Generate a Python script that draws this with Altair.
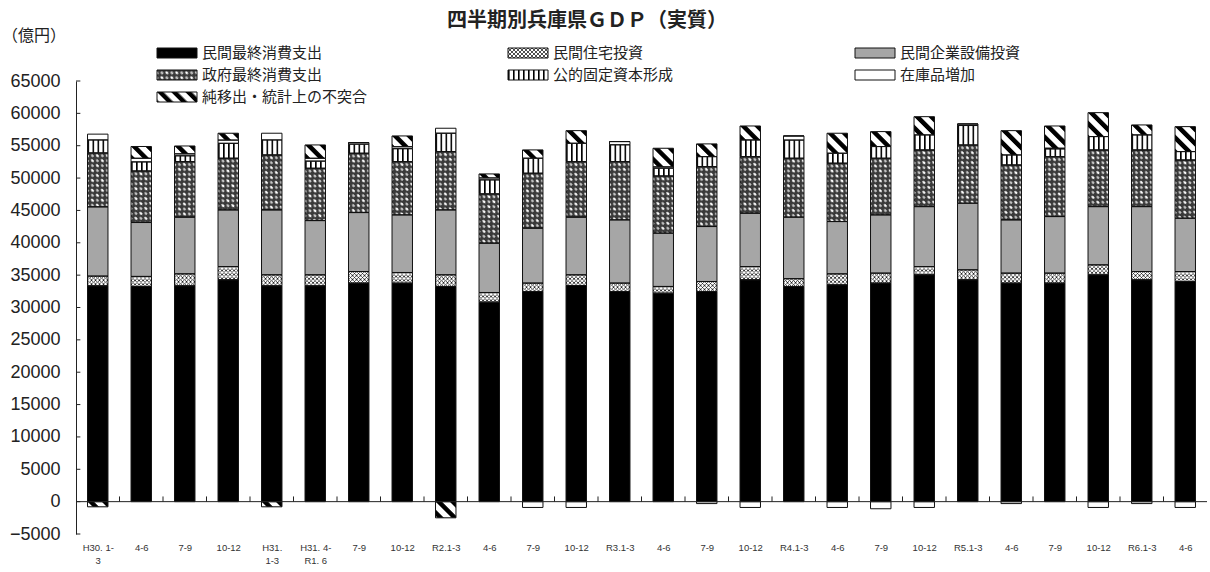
import base64
import json

import altair as alt
import pandas as pd

# ---- data (億円) -------------------------------------------------------------
quarters = ["H30. 1-|3", "4-6", "7-9", "10-12", "H31.|1-3", "H31. 4-|R1. 6", "7-9", "10-12",
            "R2.1-3", "4-6", "7-9", "10-12", "R3.1-3", "4-6", "7-9", "10-12",
            "R4.1-3", "4-6", "7-9", "10-12", "R5.1-3", "4-6", "7-9", "10-12",
            "R6.1-3", "4-6"]

series_names = ["民間最終消費支出", "民間住宅投資", "民間企業設備投資",
                "政府最終消費支出", "公的固定資本形成", "在庫品増加",
                "純移出・統計上の不突合"]

consumption = [33350, 33250, 33350, 34280, 33350, 33350, 33770, 33770, 33250, 30830,
               32470, 33400, 32470, 32220, 32470, 34280, 33250, 33500, 33770, 35050,
               34280, 33770, 33770, 35050, 34280, 34020]
residential = [1500, 1550, 1850, 2050, 1700, 1700, 1790, 1640, 1800, 1490,
               1300, 1650, 1300, 1030, 1550, 2050, 1200, 1700, 1540, 1280,
               1540, 1540, 1540, 1540, 1280, 1540]
business = [10700, 8330, 8760, 8750, 10030, 8380, 9110, 8900, 10030, 7620,
            8490, 8910, 9770, 8240, 8490, 8240, 9510, 8080, 9000, 9260,
            10300, 8230, 8740, 9000, 10030, 8240]
government = [8340, 7970, 8580, 7990, 8500, 8090, 9170, 8230, 9010, 7620,
              8490, 8580, 9000, 8840, 9260, 8740, 9110, 9020, 8760, 8760,
              9000, 8490, 9260, 8760, 8760, 9000]
public = [2000, 1400, 900, 2300, 2310, 1100, 1400, 2000, 2840, 2160,
          2320, 2840, 2600, 1200, 1540, 2580, 2800, 1540, 1800, 2320,
          3000, 1540, 1200, 2060, 2320, 1290]
inventory = [900, 560, 300, 500, 1040, 440, 240, 300, 770, 300,
             -900, -900, 500, 200, -300, -900, 640, -900, -1100, -900,
             240, -300, 100, -900, -300, -900]
net_exports = [-800, 1820, 1220, 1060, -800, 2060, 0, 1670, -2500, 620,
               1280, 1950, 0, 2880, 1970, 2160, 0, 3090, 2310, 2820,
               0, 3760, 3440, 3700, 1540, 3860]

y_ticks = list(range(-5000, 65001, 5000))

columns = [consumption, residential, business, government, public, inventory, net_exports]
rows = []
for order, (name, vals) in enumerate(zip(series_names, columns)):
    for i, v in enumerate(vals):
        rows.append({"idx": i, "series": name, "order": order, "value": v})
df = pd.DataFrame(rows)

# ---- fills and hatch patterns ------------------------------------------------
JP = "Noto Sans CJK JP"


def pattern_uri(w, h, body, transform=""):
    tr = f" patternTransform='{transform}'" if transform else ""
    svg = ("<svg xmlns='http://www.w3.org/2000/svg' width='100%' height='100%'>"
           f"<defs><pattern id='p' patternUnits='userSpaceOnUse' width='{w}' height='{h}'{tr}>"
           f"{body}</pattern></defs>"
           "<rect x='0' y='0' width='100%' height='100%' fill='url(#p)'/></svg>")
    return "data:image/svg+xml;base64," + base64.b64encode(svg.encode("utf-8")).decode("ascii")


patterns = {
    "民間住宅投資": pattern_uri(
        4, 4, "<rect width='4' height='4' fill='#fff'/>"
              "<path d='M0,0 L4,4 M4,0 L0,4' stroke='#222' stroke-width='0.8'/>"),
    "政府最終消費支出": pattern_uri(
        7, 7, "<rect width='7' height='7' fill='#3a3a3a'/>"
              "<ellipse cx='2' cy='2' rx='1.7' ry='1.2' fill='#fff'/>"
              "<ellipse cx='5.5' cy='5.5' rx='1.7' ry='1.2' fill='#c8c8c8'/>", "rotate(45)"),
    "公的固定資本形成": pattern_uri(
        5, 5, "<rect width='5' height='5' fill='#fff'/><rect width='1.6' height='5' fill='#000'/>"),
    "純移出・統計上の不突合": pattern_uri(
        10, 10, "<rect width='10' height='10' fill='#fff'/><rect width='4.5' height='10' fill='#000'/>",
        "rotate(-45)"),
}

base_colors = ["#000000", "#777777", "#a6a6a6", "#444444", "#dddddd", "#ffffff", "#888888"]

# ---- scales / axes -----------------------------------------------------------
n = len(quarters)
x_scale = alt.Scale(domain=[-0.5, n - 0.5], nice=False, zero=False)
y_scale = alt.Scale(domain=[-5000, 65000], nice=False, zero=False)

label_expr = "split(" + json.dumps(quarters) + "[datum.value], '|')"
x_axis = alt.Axis(values=list(range(n)), labelExpr=label_expr, domain=False, ticks=False,
                  grid=False, labelFlush=False, labelOverlap=False, labelBound=False,
                  labelFontSize=9.5, labelFont="Liberation Sans", labelColor="#333",
                  labelPadding=8, labelLineHeight=13, labelBaseline="top", title=None)
y_axis = alt.Axis(values=y_ticks, format="d", domain=True, domainColor="#222", domainWidth=1,
                  ticks=False, grid=False, labelFontSize=18, labelFont="Liberation Sans",
                  labelColor="#222", labelPadding=16, labelOverlap=False, title=None)

stacked = (alt.Chart(df)
           .transform_stack(stack="value", as_=["v0", "v1"], groupby=["idx"],
                            sort=[alt.SortField("order", order="ascending")], offset="zero")
           .transform_calculate(x0="datum.idx - 0.235", x1="datum.idx + 0.235"))

X0 = alt.X("x0:Q", scale=x_scale, axis=x_axis)
Y0 = alt.Y("v0:Q", scale=y_scale, axis=y_axis)

fills = stacked.mark_bar(strokeWidth=0).encode(
    x=X0, x2="x1:Q", y=Y0, y2="v1:Q",
    color=alt.Color("series:N", scale=alt.Scale(domain=series_names, range=base_colors), legend=None),
)

hatches = [
    stacked.transform_filter(alt.datum.series == name).mark_image(aspect=False).encode(
        x=X0, x2="x1:Q", y=Y0, y2="v1:Q", url=alt.value(uri))
    for name, uri in patterns.items()
]

outlines = stacked.mark_bar(fillOpacity=0, stroke="#111", strokeWidth=1).encode(
    x=X0, x2="x1:Q", y=Y0, y2="v1:Q")

zero_line = alt.Chart(pd.DataFrame({"z": [0]})).mark_rule(color="#222", strokeWidth=1).encode(
    y=alt.Y("z:Q", scale=y_scale, axis=y_axis))

# small upward ticks between quarters on the zero line
bounds = pd.DataFrame({"b": [i + 0.5 for i in range(n - 1)], "lo": 0, "hi": 800})
x_ticks = alt.Chart(bounds).mark_rule(color="#222", strokeWidth=1).encode(
    x=alt.X("b:Q", scale=x_scale, axis=x_axis),
    y=alt.Y("lo:Q", scale=y_scale, axis=y_axis), y2="hi:Q")

# inward ticks on the value axis
yt = pd.DataFrame({"v": y_ticks, "a": -0.5, "b": -0.4})
y_inner = alt.Chart(yt).mark_rule(color="#222", strokeWidth=1).encode(
    x=alt.X("a:Q", scale=x_scale, axis=x_axis), x2="b:Q",
    y=alt.Y("v:Q", scale=y_scale, axis=y_axis))

# ---- legend, title, unit -----------------------------------------------------
one = pd.DataFrame({"k": [0]})
PAD_L, PAD_T = 76, 81
legend_cols = [157, 508, 855]
legend_rows = [53, 75, 97]
sw_w, sw_h = 40, 10

legend_layers = []
for k, name in enumerate(series_names):
    sx = legend_cols[k % 3] - PAD_L
    sy = legend_rows[k // 3] - PAD_T
    box = dict(x=alt.value(sx), x2=alt.value(sx + sw_w),
               y=alt.value(sy - sw_h / 2), y2=alt.value(sy + sw_h / 2))
    legend_layers.append(alt.Chart(one).mark_rect(fill=base_colors[k], strokeWidth=0).encode(**box))
    if name in patterns:
        legend_layers.append(alt.Chart(one).mark_image(aspect=False).encode(
            url=alt.value(patterns[name]), **box))
    legend_layers.append(alt.Chart(one).mark_rect(fillOpacity=0, stroke="#111", strokeWidth=1).encode(**box))
    legend_layers.append(alt.Chart(one).mark_text(
        align="left", baseline="middle", fontSize=15, font=JP, color="#222").encode(
        x=alt.value(sx + sw_w + 5), y=alt.value(sy), text=alt.value(name)))

title = alt.Chart(one).mark_text(align="center", baseline="middle", fontSize=20, font=JP,
                                 fontWeight="bold", color="#222").encode(
    x=alt.value(587 - PAD_L), y=alt.value(21 - PAD_T), text=alt.value("四半期別兵庫県ＧＤＰ（実質）"))
unit = alt.Chart(one).mark_text(align="center", baseline="middle", fontSize=16, font=JP,
                                color="#222").encode(
    x=alt.value(34 - PAD_L), y=alt.value(36 - PAD_T), text=alt.value("（億円）"))

chart = alt.layer(
    fills, *hatches, outlines, zero_line, x_ticks, y_inner, *legend_layers, title, unit
).properties(
    width=1131, height=453,
    autosize=alt.AutoSizeParams(type="none"),
    padding={"left": PAD_L, "top": PAD_T, "right": 3, "bottom": 38},
    background="white",
).configure_view(stroke=None)

chart.save("out.html", embed_options={"renderer": "svg", "actions": False})
